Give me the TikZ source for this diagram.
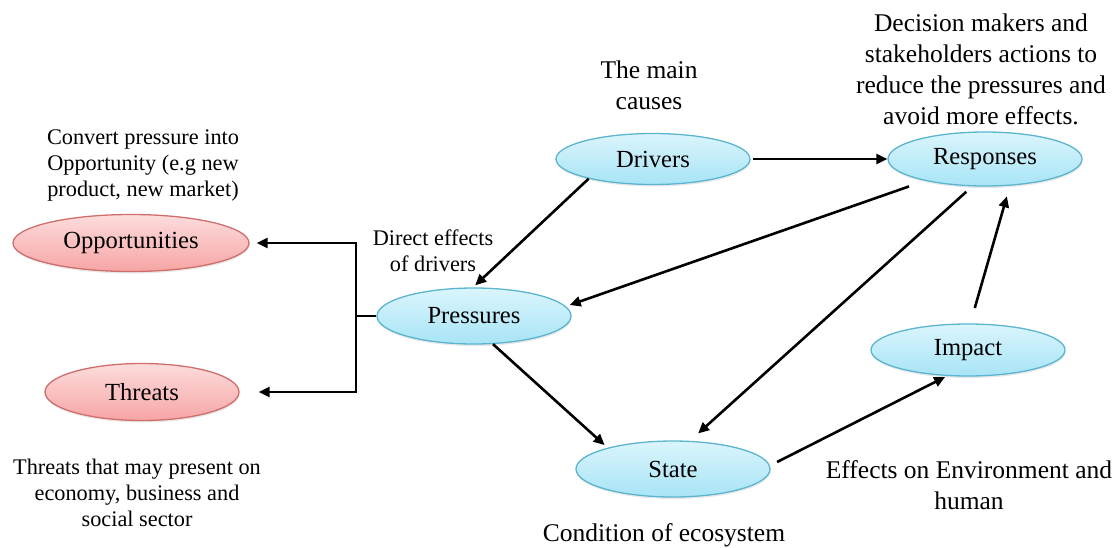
\documentclass[tikz,border=0pt]{standalone}
\usepackage{fontspec}
\setmainfont{Liberation Serif}
\usetikzlibrary{shapes.geometric,arrows.meta,shadows}

\definecolor{azulborde}{HTML}{5BB5CF}
\definecolor{azularriba}{HTML}{DAF5FC}
\definecolor{azulabajo}{HTML}{A8E4F6}
\definecolor{rojoborde}{HTML}{CF6E6C}
\definecolor{rojoarriba}{HTML}{FDDCDC}
\definecolor{rojoabajo}{HTML}{F6A5A5}

\begin{document}
\begin{tikzpicture}[x=1pt, y=-1pt,
    azul/.style={ellipse, draw=azulborde, line width=1.3pt, top color=azularriba, bottom color=azulabajo,
      minimum width=194pt, minimum height=54pt, inner sep=0pt, font=\fontsize{24.6}{28}\selectfont,
      drop shadow={opacity=0.18, shadow xshift=0.5pt, shadow yshift=-2pt}},
    rojo/.style={azul, draw=rojoborde, top color=rojoarriba, bottom color=rojoabajo},
    flecha/.style={line width=2.6pt, -{Triangle[length=11pt,width=10pt]}},
    nota/.style={align=center, inner sep=0pt, font=\fontsize{25.5}{31}\selectfont},
    notachica/.style={align=center, inner sep=0pt, font=\fontsize{22.3}{26}\selectfont}]
    \useasboundingbox (0,0) rectangle (1116,547);

    % Elipses del modelo
    \node[azul, minimum height=51pt] (drivers) at (653,159) {Drivers};
    \node[azul] (responses) at (985,159) {Responses};
    \node[azul, minimum height=56pt] (pressures) at (474,316) {Pressures};
    \node[azul, minimum height=52pt] (impact) at (968,350) {Impact};
    \node[azul, minimum height=56pt] (state) at (673,469) {State};

    % Oportunidades y amenazas
    \node[rojo, minimum width=236pt, minimum height=57pt] (opportunities) at (131,243) {Opportunities};
    \node[rojo, minimum height=57pt] (threats) at (142,392) {Threats};

    % Textos
    \node[nota] (causes) at (649,85) {The main\\causes};
    \node[nota] (decision) at (981,69) {Decision makers and\\stakeholders actions to\\reduce the pressures and\\avoid more effects.};
    \node[notachica] (convert) at (143,165) {Convert pressure into\\Opportunity (e.g new\\product, new market)};
    \node[notachica] (direct) at (433,251) {Direct effects\\of drivers};
    \node[notachica] (threattext) at (137,493) {Threats that may present on\\economy, business and\\social sector};
    \node[nota] (condition) at (664,535) {Condition of ecosystem};
    \node[nota] (effects) at (969,485) {Effects on Environment and\\human};

    % Flechas
    \draw[flecha, shorten <=2pt] (drivers.east) -- (responses.west);
    \draw[flecha, shorten >=3pt] (drivers.197) -- (pressures.92);
    \draw[flecha, shorten <=17pt, shorten >=4pt] (responses.200) -- (pressures.6);
    \draw[flecha, shorten <=8pt, shorten >=11pt] (responses.245) -- (state.59);
    \draw[flecha, shorten <=16pt, shorten >=11pt] (impact.85) -- (responses.313);
    \draw[flecha, shorten >=4pt] (pressures.304) -- (state.162);
    \draw[flecha, shorten <=8pt, shorten >=2pt] (state.2) -- (impact.231);

    % Rama hacia oportunidades y amenazas
    \coordinate (split) at (356,316);
    \draw[line width=2.6pt] (pressures.west) -- (split);
    \draw[flecha] (split) |- ([xshift=7pt]opportunities.east);
    \draw[flecha] (split) |- ([xshift=19pt]threats.east);

  \end{tikzpicture}
\end{document}
